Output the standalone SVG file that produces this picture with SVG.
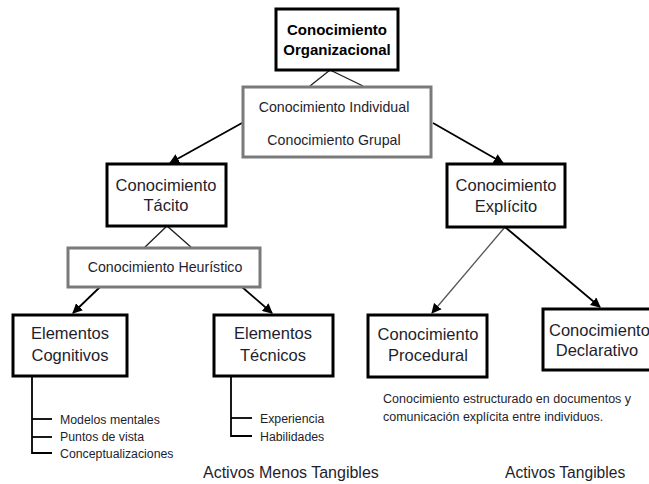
<svg xmlns="http://www.w3.org/2000/svg" width="649" height="484" viewBox="0 0 649 484">
<defs>
<marker id="ah" viewBox="0 0 10 10" refX="9" refY="5" markerWidth="10" markerHeight="10" markerUnits="userSpaceOnUse" orient="auto">
<path d="M0,0 L10,5 L0,10 z" fill="#000"/>
</marker>
<style>
text{font-family:"Liberation Sans",Arial,sans-serif;fill:#1e1e2e;}
.bk{fill:#fff;stroke:#000;stroke-width:3;}
.gr{fill:#fff;stroke:#7a7a7a;stroke-width:3;}
.n{font-size:16.5px;text-anchor:middle;}
.s{font-size:14.2px;text-anchor:middle;}
.l{font-size:12.3px;}
.c{fill:none;stroke:#222;stroke-width:1.3;}
.a{fill:none;stroke:#000;stroke-width:1.8;marker-end:url(#ah);}
.ag{fill:none;stroke:#555;stroke-width:1.3;marker-end:url(#ah);}
.t{fill:none;stroke:#000;stroke-width:1.8;}
</style>
</defs>
<g id="connectors">
<polyline class="c" points="310,86 330,70 363,86"/>
<polyline class="c" points="144,248 167,226 192,248"/>
<line class="a" x1="242" y1="123" x2="170" y2="163"/>
<line class="a" x1="433" y1="123" x2="503" y2="163"/>
<line class="a" x1="100" y1="287" x2="73" y2="313"/>
<line class="a" x1="242" y1="287" x2="272" y2="313"/>
<line class="ag" x1="505" y1="227" x2="432" y2="313"/>
<line class="a" x1="505" y1="227" x2="600" y2="307"/>
<polyline class="t" points="32,376 32,453 52,453"/>
<line class="t" x1="32" y1="419" x2="52" y2="419"/>
<line class="t" x1="32" y1="437" x2="52" y2="437"/>
<polyline class="t" points="231,376 231,436 252,436"/>
<line class="t" x1="231" y1="418" x2="252" y2="418"/>
</g>
<g id="organizacional">
<rect class="bk" x="276" y="9" width="122" height="61"/>
<text x="337" y="35" style="font-size:15px;font-weight:bold;text-anchor:middle;fill:#000">Conocimiento</text>
<text x="337" y="55" style="font-size:15px;font-weight:bold;text-anchor:middle;fill:#000">Organizacional</text>
</g>
<g id="individual-grupal">
<rect class="gr" x="243" y="87" width="188" height="70"/>
<text class="s" x="334" y="112">Conocimiento Individual</text>
<text class="s" x="334" y="145">Conocimiento Grupal</text>
</g>
<g id="tacito">
<rect class="bk" x="107" y="164" width="119" height="62"/>
<text class="n" x="166" y="191">Conocimiento</text>
<text class="n" x="166" y="211">Tácito</text>
</g>
<g id="explicito">
<rect class="bk" x="447" y="164" width="118" height="63"/>
<text class="n" x="506" y="191">Conocimiento</text>
<text class="n" x="506" y="212">Explícito</text>
</g>
<g id="heuristico">
<rect class="gr" x="68" y="248" width="192" height="39"/>
<text class="s" x="165" y="272">Conocimiento Heurístico</text>
</g>
<g id="cognitivos">
<rect class="bk" x="13" y="315" width="114" height="61"/>
<text class="n" x="70" y="339">Elementos</text>
<text class="n" x="70" y="361">Cognitivos</text>
<text class="l" x="60" y="424">Modelos mentales</text>
<text class="l" x="60" y="441">Puntos de vista</text>
<text class="l" x="60" y="458">Conceptualizaciones</text>
</g>
<g id="tecnicos">
<rect class="bk" x="214" y="315" width="119" height="61"/>
<text class="n" x="273" y="339">Elementos</text>
<text class="n" x="273" y="361">Técnicos</text>
<text class="l" x="260" y="423">Experiencia</text>
<text class="l" x="260" y="441">Habilidades</text>
</g>
<g id="procedural">
<rect class="bk" x="368" y="315" width="119" height="62"/>
<text class="n" x="428" y="340">Conocimiento</text>
<text class="n" x="428" y="361">Procedural</text>
</g>
<g id="declarativo">
<rect class="bk" x="543" y="309" width="112" height="61"/>
<text class="n" x="549" y="336" style="text-anchor:start">Conocimiento</text>
<text class="n" x="597" y="356">Declarativo</text>
</g>
<g id="notes">
<text x="383" y="403" style="font-size:12.5px">Conocimiento estructurado en documentos y</text>
<text x="383" y="421" style="font-size:12.5px">comunicación explícita entre individuos.</text>
<text x="203" y="478" style="font-size:16px">Activos Menos Tangibles</text>
<text x="505" y="478" style="font-size:15.6px">Activos Tangibles</text>
</g>
</svg>
